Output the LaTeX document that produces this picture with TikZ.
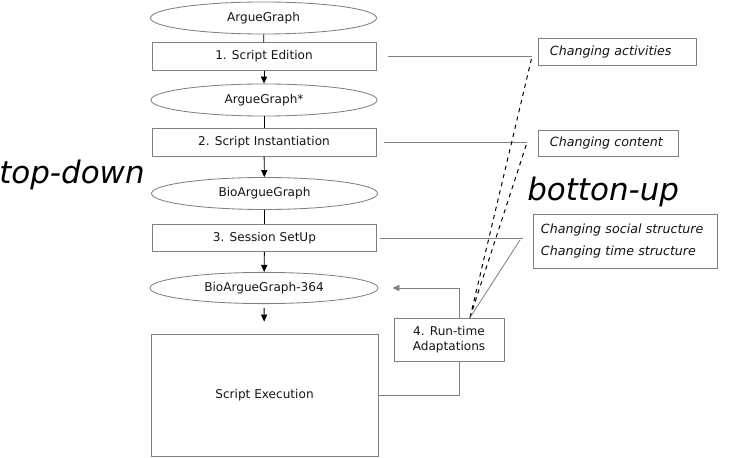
\documentclass[tikz,border=0pt]{standalone}
\usepackage{fontspec}
\setmainfont{DejaVu Sans}
\definecolor{linegray}{RGB}{128, 128, 128}
\definecolor{textblack}{RGB}{20, 20, 20}
\usetikzlibrary{shapes.geometric, arrows.meta, calc}
\tikzset{
    state/.style={
        ellipse, draw=linegray, line width=0.6pt,
        minimum width=5.65cm, minimum height=0.8cm, inner sep=0pt,
        text=textblack, font=\fontsize{8.6}{10}\selectfont
    },
    stepbox/.style={
        rectangle, draw=linegray, line width=0.6pt,
        minimum width=5.6cm, minimum height=0.68cm, inner sep=0pt,
        text=textblack, font=\fontsize{8.6}{10}\selectfont, align=center
    },
    note/.style={
        rectangle, draw=linegray, line width=0.6pt,
        text width=#1, inner xsep=0.3cm, minimum height=0.66cm,
        text=textblack, font=\fontsize{9}{10}\selectfont\itshape, align=left
    },
    arrow/.style={-{Triangle[length=5pt, width=4.5pt]}, line width=0.6pt, color=black},
    backarrow/.style={-{Triangle[length=5pt, width=4.5pt]}, line width=0.6pt, color=linegray},
    flow/.style={line width=0.6pt, color=black},
    link/.style={line width=0.6pt, color=linegray},
    dashedlink/.style={dashed, line width=0.7pt, color=black},
    big/.style={font=\fontsize{22}{26}\selectfont\itshape, inner sep=0pt, anchor=base west}
}
\begin{document}
\begin{tikzpicture}[x=0.025cm, y=-0.025cm]
    \useasboundingbox (0,0) rectangle (740,458);

    % Main column
    \node[state] (ag) at (263.5,18) {ArgueGraph};
    \node[stepbox] (se) at (264,56.5) {1. Script Edition};
    \node[state] (ags) at (264,100) {ArgueGraph*};
    \node[stepbox] (si) at (264,142.5) {2. Script Instantiation};
    \node[state] (bag) at (264.5,193.5) {BioArgueGraph};
    \node[stepbox] (ss) at (264.5,238) {3. Session SetUp};
    \node[state, minimum width=5.7cm, minimum height=0.78cm] (bag364) at (264,288) {BioArgueGraph-364};
    \node[stepbox, minimum width=5.675cm, minimum height=3.05cm] (exec) at (264.5,395) {Script Execution};
    \node[stepbox, minimum width=2.75cm, minimum height=1.075cm] (rta) at (449,339.5) {4. Run-time\\[1pt]Adaptations};

    % Changes
    \node[note=3.35cm] (ca) at (617,52) {Changing activities};
    \node[note=2.9cm] (cc) at (608,143.5) {Changing content};
    \node[note=4.2cm, inner xsep=0.2cm, minimum height=1.35cm] (cs) at (625,241)
        {Changing social structure\\[6pt]Changing time structure};

    % Approaches
    \node[big] (td) at (-1,184) {top-down};
    \node[big] (bu) at (527,200) {botton-up};

    % Arrows
    \draw[flow] (ag) -- (se);
    \draw[arrow] (se) -- (ags);
    \draw[flow] (ags) -- (si);
    \draw[arrow] (si) -- (bag);
    \draw[flow] (bag) -- (ss);
    \draw[arrow] (ss) -- (bag364);
    \draw[arrow, shorten <=0.1cm, shorten >=0.3cm] (bag364) -- (exec);

    % Run-time loop
    \draw[link] (exec.east) -| ([xshift=0.25cm]rta.south);
    \draw[backarrow] ([xshift=0.25cm]rta.north) |- ([xshift=0.35cm]bag364.east);

    % Links to changes
    \coordinate (e1) at (532,56.5);
    \coordinate (e2) at (527,142.5);
    \coordinate (e3) at (523,238);
    \coordinate (e4) at (520,240);
    \coordinate (t) at ([xshift=0.525cm]rta.north);
    \draw[link] ([xshift=0.28cm]se.east) -- (e1);
    \draw[link] ([xshift=0.18cm]si.east) -- (e2);
    \draw[link] ([xshift=0.08cm]ss.east) -- (e3);
    \draw[dashedlink] (t) -- (e1);
    \draw[dashedlink] (t) -- (e2);
    \draw[link] (t) -- (e4);

\end{tikzpicture}
\end{document}
